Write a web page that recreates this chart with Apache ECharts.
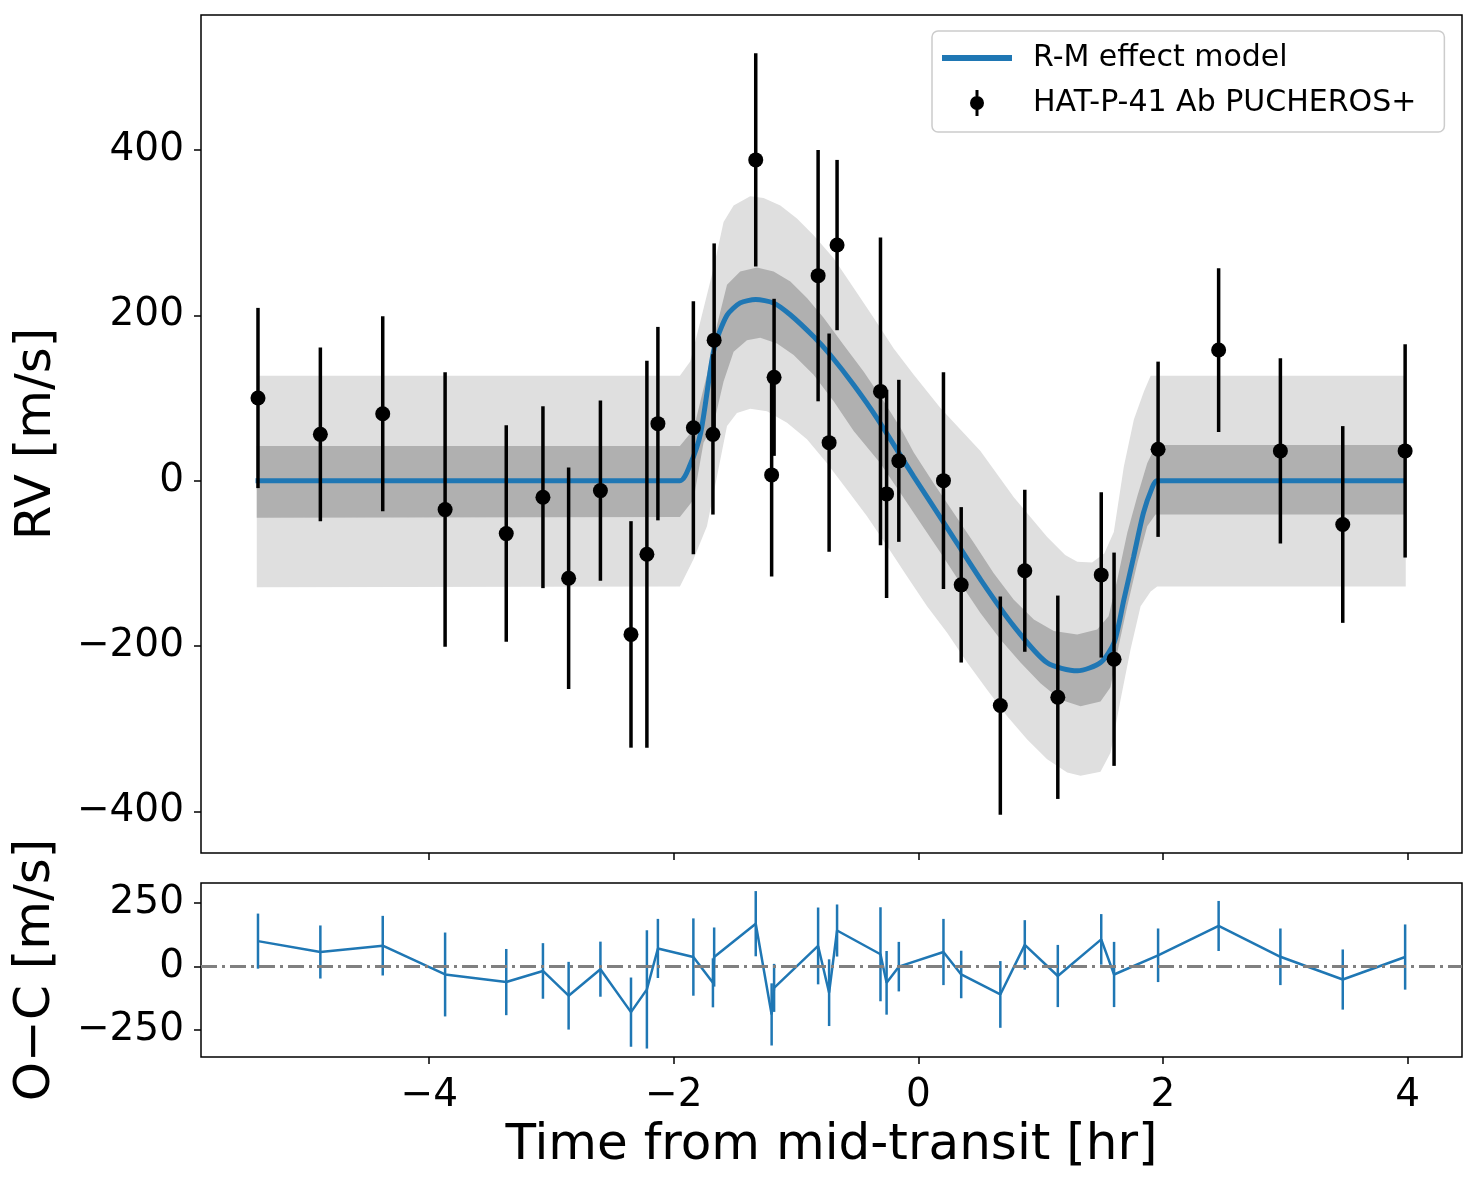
<!DOCTYPE html>
<html><head><meta charset="utf-8">
<script src="https://cdn.jsdelivr.net/npm/echarts@6/dist/echarts.min.js"></script>
<style>html,body{margin:0;padding:0;background:#fff}#c{width:1478px;height:1185px}</style>
</head><body><div id="c"></div>
<script>
// ---- data ----
const obsTime = [-5.40,-4.89,-4.38,-3.87,-3.37,-3.07,-2.86,-2.60,-2.35,-2.22,-2.13,-1.84,-1.68,-1.67,-1.33,-1.20,-1.18,-0.82,-0.73,-0.665,-0.31,-0.26,-0.16,0.205,0.35,0.67,0.87,1.14,1.495,1.60,1.96,2.455,2.96,3.47,3.98];
const obsRV   = [100,56,81,-35,-64,-20,-118,-12,-186,-89,69,64,56,170,388,7,125,248,46,285,108,-16,24,0,-126,-272,-109,-262,-114,-216,38,158,36,-53,36];
const obsErr  = [109,105,118,166,131,110,134,109,137,234,117,153,97,117,129,123,95,152,132,103,186,126,98,131,94,132,98,123,100,129,106,99,112,119,129];
const residRV = [100,57,82,-32,-62,-18,-116,-11,-181,-91,71,37,-65,37,169,-190,-85,81,-104,142,48,-65,-1,57,-32,-111,85,-38,107,-32,44,160,38,-52,37];

const modelCurve = [[-5.42,0],[-1.95,0],[-1.87,18],[-1.78,58],[-1.67,160],[-1.565,200],[-1.457,215],[-1.33,219],[-1.185,215],[-1.05,201],[-0.855,174],[-0.72,152],[-0.53,116],[-0.34,76],[-0.038,5],[0.235,-57],[0.51,-120],[0.78,-176],[1.05,-220],[1.30,-230],[1.49,-220],[1.60,-196],[1.68,-144],[1.76,-92],[1.84,-39],[1.91,-9],[1.95,0],[3.98,0]];

const lightUpper = [[-5.41,127],[-1.95,127],[-1.866,144],[-1.784,192],[-1.675,257],[-1.593,313],[-1.511,333],[-1.375,344],[-1.266,342],[-1.129,333],[-0.993,317],[-0.857,297],[-0.693,269],[-0.529,233],[-0.366,197],[-0.202,160],[-0.038,128],[0.180,88],[0.507,36],[0.780,-20],[1.053,-68],[1.200,-90],[1.299,-98],[1.420,-99],[1.520,-88],[1.598,-62],[1.680,17],[1.762,74],[1.844,108],[1.899,127],[3.985,127]];
const lightLower = [[-5.41,-129],[-1.95,-128],[-1.839,-95],[-1.729,-55],[-1.647,5],[-1.565,66],[-1.484,82],[-1.375,87],[-1.238,84],[-1.074,70],[-0.911,50],[-0.747,21],[-0.583,-11],[-0.420,-43],[-0.256,-79],[-0.092,-116],[0.071,-152],[0.235,-184],[0.399,-220],[0.562,-253],[0.726,-285],[0.890,-313],[1.053,-337],[1.217,-353],[1.326,-357],[1.489,-352],[1.571,-329],[1.653,-265],[1.735,-204],[1.817,-152],[1.899,-134],[1.953,-128],[3.985,-128]];
const darkUpper  = [[-5.41,42],[-1.95,42],[-1.839,62],[-1.729,128],[-1.647,188],[-1.565,237],[-1.457,253],[-1.320,258],[-1.184,253],[-1.047,241],[-0.911,221],[-0.775,197],[-0.611,164],[-0.448,132],[-0.284,96],[-0.147,64],[-0.038,34],[0.125,-3],[0.289,-39],[0.453,-75],[0.616,-112],[0.780,-144],[0.944,-168],[1.107,-182],[1.299,-186],[1.462,-180],[1.555,-164],[1.626,-120],[1.708,-63],[1.790,-19],[1.871,21],[1.926,38],[1.980,43],[3.985,43]];
const darkLower  = [[-5.41,-45],[-1.95,-44],[-1.839,-23],[-1.757,46],[-1.675,68],[-1.593,120],[-1.511,156],[-1.402,170],[-1.293,173],[-1.156,166],[-1.020,152],[-0.857,128],[-0.693,96],[-0.529,60],[-0.311,21],[-0.147,-15],[0.016,-51],[0.180,-87],[0.344,-124],[0.507,-160],[0.671,-192],[0.835,-220],[0.998,-245],[1.162,-265],[1.326,-273],[1.489,-267],[1.571,-250],[1.626,-208],[1.708,-152],[1.790,-100],[1.871,-55],[1.939,-41],[3.985,-41]];

const xTicks  = [-4,-2,0,2,4];
const rvTicks = [-400,-200,0,200,400];
const ocTicks = [-250,0,250];

// ---- chart ----
const FONT = 'DejaVu Sans';
const BLUE = '#1f77b4';
const fmt = v => v < 0 ? '\u2212' + Math.abs(v) : String(v);
const chart = echarts.init(document.getElementById('c'), null, {renderer: 'canvas'});

function bandSeries(name, upper, lower, color) {
  return {
    type: 'custom', name: name, xAxisIndex: 0, yAxisIndex: 0, silent: true, z: 1,
    data: [upper[0]],
    renderItem: function (params, api) {
      const pts = upper.map(p => api.coord(p)).concat(lower.slice().reverse().map(p => api.coord(p)));
      return {type: 'polygon', shape: {points: pts}, style: {fill: color}};
    }
  };
}
function errSeries(name, xi, yi, values, color, lw, r, z) {
  return {
    type: 'custom', name: name, xAxisIndex: xi, yAxisIndex: yi, z: z,
    itemStyle: {color: color},
    encode: {x: 0, y: 1},
    data: obsTime.map((t, i) => [t, values[i], obsErr[i]]),
    renderItem: function (params, api) {
      const t = api.value(0), v = api.value(1), e = api.value(2);
      const a = api.coord([t, v + e]), b = api.coord([t, v - e]), c = api.coord([t, v]);
      const kids = [{type: 'line', shape: {x1: a[0], y1: a[1], x2: b[0], y2: b[1]}, style: {stroke: color, lineWidth: lw}}];
      if (r > 0) kids.push({type: 'circle', shape: {cx: c[0], cy: c[1], r: r}, style: {fill: color}});
      return {type: 'group', children: kids};
    }
  };
}

const errIcon = 'path://M5.5,0 L8.5,0 L8.5,26 L5.5,26 Z M14,13 A7,7 0 1,1 0,13 A7,7 0 1,1 14,13 Z';
const lineIcon = 'path://M0,0 L70,0 L70,6 L0,6 Z';

const axisTickStyle = {color: '#000', width: 1.5};
const labelStyle = {fontFamily: FONT, fontSize: 39, color: '#000'};
const nameStyle = {fontFamily: FONT, fontSize: 50, color: '#000'};

chart.setOption({
  animation: false,
  backgroundColor: '#fff',
  grid: [
    {left: 201, top: 15, width: 1261, height: 838, show: true, borderColor: '#000', borderWidth: 1.5,
     backgroundColor: 'transparent', containLabel: false, outerBoundsMode: 'none'},
    {left: 201, top: 883, width: 1261, height: 174, show: true, borderColor: '#000', borderWidth: 1.5,
     backgroundColor: 'transparent', containLabel: false, outerBoundsMode: 'none'}
  ],
  xAxis: [
    {gridIndex: 0, type: 'value', min: -5.866, max: 4.445, position: 'bottom',
     axisLine: {show: false, onZero: false}, splitLine: {show: false},
     axisTick: {show: true, customValues: xTicks, length: 7, lineStyle: axisTickStyle},
     axisLabel: {show: false}},
    {gridIndex: 1, type: 'value', min: -5.866, max: 4.445, position: 'bottom',
     axisLine: {show: false, onZero: false}, splitLine: {show: false},
     axisTick: {show: true, customValues: xTicks, length: 7, lineStyle: axisTickStyle},
     axisLabel: Object.assign({show: true, customValues: xTicks, formatter: fmt, margin: 19}, labelStyle),
     name: 'Time from mid-transit [hr]', nameLocation: 'middle', nameGap: 64, nameTextStyle: nameStyle}
  ],
  yAxis: [
    {gridIndex: 0, type: 'value', min: -450.4, max: 563.3, position: 'left',
     axisLine: {show: false, onZero: false}, splitLine: {show: false},
     axisTick: {show: true, customValues: rvTicks, length: 7, lineStyle: axisTickStyle},
     axisLabel: Object.assign({show: true, customValues: rvTicks, formatter: fmt, margin: 17}, labelStyle),
     name: 'RV [m/s]', nameLocation: 'middle', nameGap: 139, nameRotate: 90, nameTextStyle: nameStyle},
    {gridIndex: 1, type: 'value', min: -358.5, max: 330, position: 'left',
     axisLine: {show: false, onZero: false}, splitLine: {show: false},
     axisTick: {show: true, customValues: ocTicks, length: 7, lineStyle: axisTickStyle},
     axisLabel: Object.assign({show: true, customValues: ocTicks, formatter: fmt, margin: 17}, labelStyle),
     name: 'O\u2212C [m/s]', nameLocation: 'middle', nameGap: 140, nameRotate: 90, nameTextStyle: nameStyle}
  ],
  legend: {
    orient: 'vertical', left: 932, top: 31,
    padding: [12, 28, 14, 10],
    itemWidth: 70, itemHeight: 26, itemGap: 15,
    backgroundColor: 'rgba(255,255,255,0.8)', borderColor: '#cccccc', borderWidth: 1.5, borderRadius: 6,
    selectedMode: false,
    textStyle: {fontFamily: FONT, fontSize: 30, color: '#000', padding: [0, 0, 0, 16]},
    data: [
      {name: 'R-M effect model', icon: lineIcon, itemStyle: {color: BLUE}},
      {name: 'HAT-P-41 Ab PUCHEROS+', icon: errIcon, itemStyle: {color: '#000'}}
    ]
  },
  series: [
    bandSeries('light band', lightUpper, lightLower, '#dfdfdf'),
    bandSeries('dark band', darkUpper, darkLower, '#b0b0b0'),
    {type: 'line', name: 'R-M effect model', xAxisIndex: 0, yAxisIndex: 0, z: 3,
     data: modelCurve, symbol: 'none', smooth: 0.25, color: BLUE,
     lineStyle: {color: BLUE, width: 5}},
    errSeries('HAT-P-41 Ab PUCHEROS+', 0, 0, obsRV, '#000', 3.5, 7.5, 5),
    {type: 'line', name: 'O-C', xAxisIndex: 1, yAxisIndex: 1, z: 3,
     data: obsTime.map((t, i) => [t, residRV[i]]), symbol: 'none', color: BLUE,
     lineStyle: {color: BLUE, width: 2.5},
     markLine: {silent: true, symbol: 'none', label: {show: false},
       lineStyle: {color: '#808080', width: 3, type: [16, 5, 3, 5]},
       data: [{yAxis: 0}]}},
    errSeries('O-C err', 1, 1, residRV, BLUE, 2.5, 0, 4)
  ]
});
</script>
</body></html>
